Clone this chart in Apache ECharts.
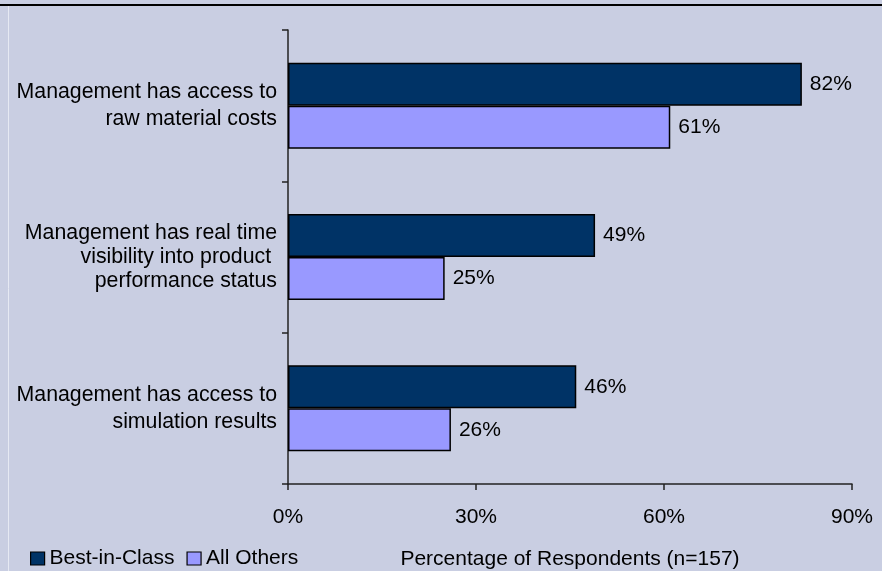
<!DOCTYPE html>
<html>
<head>
<meta charset="utf-8">
<script src="https://cdn.jsdelivr.net/npm/echarts@6/dist/echarts.min.js"></script>
<style>
  html, body { margin: 0; padding: 0; background: #C9CEE2; }
  #chart { width: 882px; height: 571px; }
</style>
</head>
<body>
<div id="chart"></div>
<script>
// Survey categories (top to bottom)
const categories = [
  'Management has access to\nraw material costs',
  'Management has real time\nvisibility into product \nperformance status',
  'Management has access to\nsimulation results'
];
const seriesNames = ['Best-in-Class', 'All Others'];
const bestInClass = [82, 49, 46];
const allOthers = [61, 25, 26];
const xTicks = [0, 30, 60, 90];

const FONT = "'Liberation Sans', Arial, Helvetica, sans-serif";
const chart = echarts.init(document.getElementById('chart'));

const labelStyle = {
  show: true,
  position: 'right',
  distance: 8,
  color: '#000',
  fontFamily: FONT,
  fontSize: 21,
  formatter: p => p.value + '%'
};

chart.setOption({
  backgroundColor: '#C9CEE2',
  animation: false,
  textStyle: { fontFamily: FONT },
  graphic: [
    { type: 'line', shape: { x1: 0, y1: 5, x2: 882, y2: 5 },
      style: { stroke: '#000', lineWidth: 2 } },
    { type: 'line', shape: { x1: 8.5, y1: 6, x2: 8.5, y2: 571 },
      style: { stroke: '#E6E9F3', lineWidth: 1 } }
  ],
  legend: {
    left: 25,
    top: 543,
    icon: 'rect',
    itemWidth: 14,
    itemHeight: 13,
    itemGap: 12,
    textStyle: { color: '#000', fontFamily: FONT, fontSize: 21 },
    itemStyle: { borderColor: '#000', borderWidth: 1.2 },
    data: seriesNames
  },
  grid: { left: 288, right: 30, top: 30, bottom: 87, containLabel: false, outerBoundsMode: 'none' },
  xAxis: {
    type: 'value',
    min: xTicks[0],
    max: xTicks[xTicks.length - 1],
    interval: 30,
    name: 'Percentage of Respondents (n=157)',
    nameLocation: 'middle',
    nameGap: 65,
    nameTextStyle: { color: '#000', fontFamily: FONT, fontSize: 21 },
    axisLine: { show: true, lineStyle: { color: '#222', width: 1.5 } },
    axisTick: { show: true, length: 6, lineStyle: { color: '#222', width: 1.5 } },
    axisLabel: { color: '#000', fontFamily: FONT, fontSize: 21, margin: 23,
      formatter: v => v + '%' },
    splitLine: { show: false }
  },
  yAxis: {
    type: 'category',
    inverse: true,
    data: categories,
    axisLine: { show: true, lineStyle: { color: '#222', width: 1.5 } },
    axisTick: { show: true, length: 6, lineStyle: { color: '#222', width: 1.5 } },
    axisLabel: {
      color: '#000',
      fontFamily: FONT,
      fontSize: 21.3,
      margin: 11,
      align: 'right',
      formatter: v => {
        const lines = v.split('\n');
        const key = lines.length > 2 ? 'b' : 'a';
        return lines.map(l => '{' + key + '|' + l + '}').join('\n');
      },
      rich: {
        a: { fontFamily: FONT, fontSize: 21.3, color: '#000', lineHeight: 27, align: 'right' },
        b: { fontFamily: FONT, fontSize: 21.3, color: '#000', lineHeight: 24, align: 'right' }
      }
    }
  },
  series: [
    {
      name: seriesNames[0],
      type: 'bar',
      data: bestInClass,
      barWidth: 43,
      barGap: '0%',
      itemStyle: { color: '#003366', borderColor: '#000', borderWidth: 1.5 },
      label: labelStyle
    },
    {
      name: seriesNames[1],
      type: 'bar',
      data: allOthers,
      barWidth: 43,
      barGap: '0%',
      itemStyle: { color: '#9999FF', borderColor: '#000', borderWidth: 1.5 },
      label: labelStyle
    }
  ]
});
</script>
</body>
</html>
